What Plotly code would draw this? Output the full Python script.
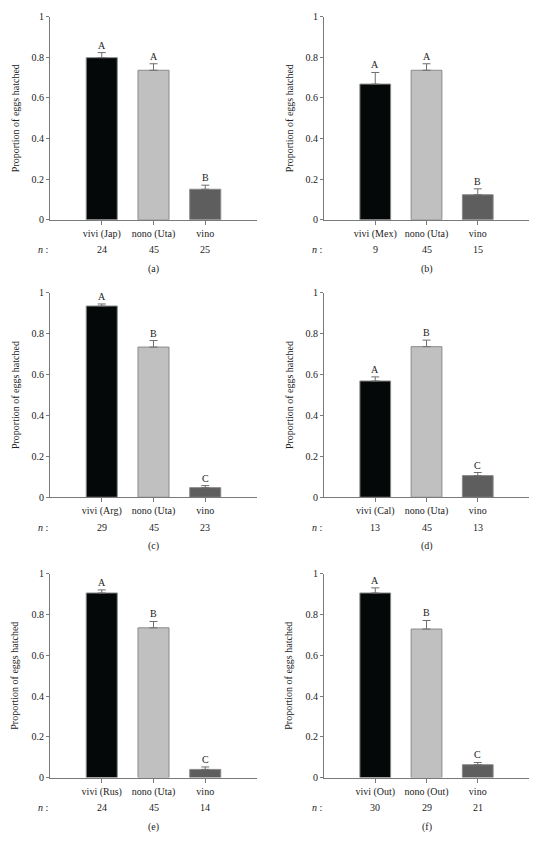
import plotly.graph_objects as go

# ---- data ----
panel_ids = ["a", "b", "c", "d", "e", "f"]
labels_a = ["vivi (Jap)", "nono (Uta)", "vino"]
labels_b = ["vivi (Mex)", "nono (Uta)", "vino"]
labels_c = ["vivi (Arg)", "nono (Uta)", "vino"]
labels_d = ["vivi (Cal)", "nono (Uta)", "vino"]
labels_e = ["vivi (Rus)", "nono (Uta)", "vino"]
labels_f = ["vivi (Out)", "nono (Out)", "vino"]

means_a = [0.798, 0.736, 0.150]
means_b = [0.668, 0.736, 0.123]
means_c = [0.936, 0.735, 0.047]
means_d = [0.569, 0.737, 0.106]
means_e = [0.906, 0.735, 0.040]
means_f = [0.906, 0.729, 0.063]

err_a = [0.025, 0.032, 0.020]
err_b = [0.057, 0.032, 0.029]
err_c = [0.010, 0.032, 0.010]
err_d = [0.020, 0.032, 0.015]
err_e = [0.015, 0.031, 0.012]
err_f = [0.025, 0.042, 0.011]

n_a = [24, 45, 25]
n_b = [9, 45, 15]
n_c = [29, 45, 23]
n_d = [13, 45, 13]
n_e = [24, 45, 14]
n_f = [30, 29, 21]

letters_a = ["A", "A", "B"]
letters_b = ["A", "A", "B"]
letters_c = ["A", "B", "C"]
letters_d = ["A", "B", "C"]
letters_e = ["A", "B", "C"]
letters_f = ["A", "B", "C"]

y_tickvals = [0, 0.2, 0.4, 0.6, 0.8, 1]
y_ticktext = ["0", "0.2", "0.4", "0.6", "0.8", "1"]
y_title = "Proportion of eggs hatched"

bar_colors = ["#050809", "#c0c0c0", "#5e5e5e"]

panels = [
    (labels_a, means_a, err_a, n_a, letters_a),
    (labels_b, means_b, err_b, n_b, letters_b),
    (labels_c, means_c, err_c, n_c, letters_c),
    (labels_d, means_d, err_d, n_d, letters_d),
    (labels_e, means_e, err_e, n_e, letters_e),
    (labels_f, means_f, err_f, n_f, letters_f),
]

# page body has an 8px default margin; size the figure to fill the rest
OFF = 8
W, H = 539 - OFF, 842 - OFF
FONT = "Liberation Serif, Times New Roman, serif"
AX = "#7a7a7a"
TXT = "#222222"

# pixel layout (window coordinates) of each panel's plot area
col_px = [(50, 257), (324, 529)]
row_px = [(10.7, 216.7), (291, 498.3), (576, 782.7)]

fig = go.Figure()
layout = dict(
    width=W, height=H,
    margin=dict(l=0, r=0, t=0, b=0),
    paper_bgcolor="white", plot_bgcolor="white",
    showlegend=False,
    font=dict(family=FONT, size=10, color=TXT),
)
annotations = []

for i, (labels, means, errs, ns, letters) in enumerate(panels):
    r, c = divmod(i, 2)
    k = "" if i == 0 else str(i + 1)
    xa, ya = "x" + k, "y" + k
    xl, xr = [v - OFF for v in col_px[c]]
    yt, yb = [v - OFF for v in row_px[r]]
    xs = list(range(len(labels)))
    fig.add_trace(go.Bar(
        x=xs, y=means, xaxis=xa, yaxis=ya, width=0.6,
        marker=dict(color=bar_colors, line=dict(color="#8a8a8a", width=1)),
        error_y=dict(type="data", array=errs, arrayminus=[0] * len(errs),
                     symmetric=False, color="#6e6e6e", thickness=1, width=4),
        cliponaxis=False,
    ))
    layout["xaxis" + k] = dict(
        domain=[xl / W, xr / W], anchor=ya, range=[-1, 3],
        tickvals=xs, ticktext=labels, ticks="outside", ticklen=4,
        tickcolor=AX, showline=True, linecolor=AX, linewidth=1,
        showgrid=False, zeroline=False, fixedrange=True,
        tickfont=dict(family=FONT, size=10, color=TXT),
    )
    layout["yaxis" + k] = dict(
        domain=[1 - yb / H, 1 - yt / H], anchor=xa, range=[0, 1],
        tickvals=y_tickvals, ticktext=y_ticktext, ticks="outside", ticklen=3,
        tickcolor=AX, showline=True, linecolor=AX, linewidth=1,
        showgrid=False, zeroline=False, fixedrange=True,
        tickfont=dict(family=FONT, size=10, color=TXT),
    )
    # significance letters
    for xv, m, e, L in zip(xs, means, errs, letters):
        annotations.append(dict(x=xv, y=m + e, xref=xa, yref=ya, text=L,
                                showarrow=False, yanchor="bottom", yshift=0,
                                font=dict(family=FONT, size=10, color=TXT)))
    # n values
    for xv, nv in zip(xs, ns):
        annotations.append(dict(x=xv, y=0, xref=xa, yref=ya, text=str(nv),
                                showarrow=False, yanchor="middle", yshift=-30,
                                font=dict(family=FONT, size=10, color=TXT)))
    annotations.append(dict(x=-1, y=0, xref=xa, yref=ya, text="<i>n</i> :",
                            showarrow=False, xanchor="center", yanchor="middle",
                            xshift=-7, yshift=-30,
                            font=dict(family=FONT, size=10, color=TXT)))
    # panel letter
    annotations.append(dict(x=1, y=0, xref=xa, yref=ya, text="(" + panel_ids[i] + ")",
                            showarrow=False, yanchor="middle", yshift=-49,
                            font=dict(family=FONT, size=10, color=TXT)))
    # y title
    annotations.append(dict(x=0, y=0.5, xref=xa + " domain", yref=ya + " domain",
                            text=y_title, textangle=-90, showarrow=False,
                            xanchor="center", yanchor="middle", xshift=-35,
                            font=dict(family=FONT, size=10, color=TXT)))

layout["annotations"] = annotations
fig.update_layout(**layout)
fig.write_html("out.html")
